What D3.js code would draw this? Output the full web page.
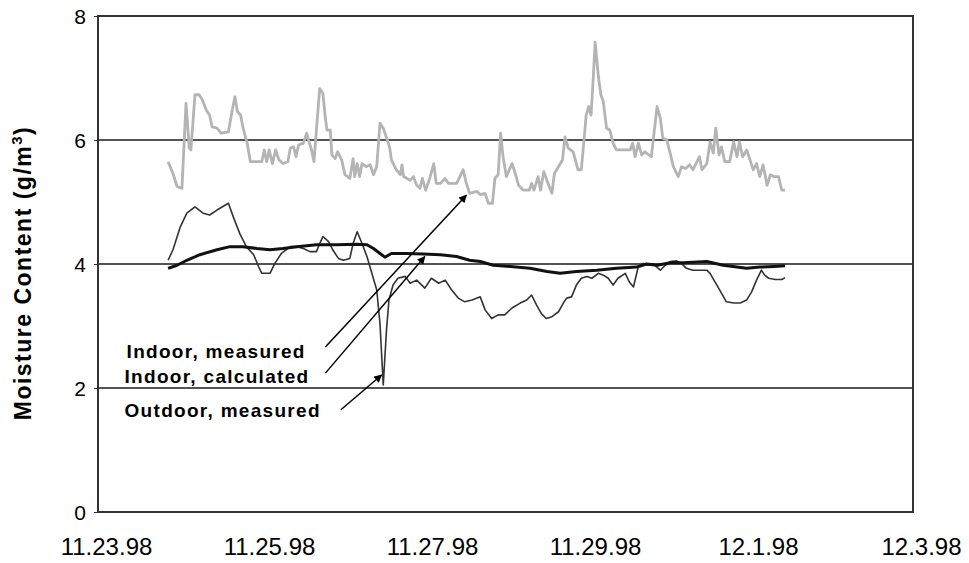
<!DOCTYPE html>
<html>
<head>
<meta charset="utf-8">
<script src="https://cdn.jsdelivr.net/npm/d3@7"></script>
<style>
  body { margin: 0; background: #fff; }
  text { font-family: "Liberation Sans", Arial, sans-serif; }
</style>
</head>
<body>
<div id="chart"></div>
<script>

// x values are days after 11.23.98 00:00
var tickLabels = ['11.23.98', '11.25.98', '11.27.98', '11.29.98', '12.1.98', '12.3.98'];
var tickDays = [0, 2, 4, 6, 8, 10];
var yTicks = [0, 2, 4, 6, 8];
var gridValues = [2, 4, 6];

var indoorMeasuredDays = [0.86,0.92,0.97,1.03,1.08,1.12,1.14,1.19,1.24,1.28,1.33,1.37,1.40,1.46,1.51,1.60,1.64,1.68,1.71,1.75,1.78,1.83,1.87,2.01,2.04,2.07,2.10,2.14,2.18,2.22,2.27,2.33,2.36,2.40,2.43,2.46,2.52,2.56,2.59,2.62,2.65,2.68,2.72,2.76,2.79,2.81,2.85,2.87,2.91,2.94,2.99,3.03,3.09,3.13,3.15,3.18,3.21,3.24,3.29,3.34,3.38,3.42,3.46,3.50,3.55,3.58,3.60,3.66,3.71,3.73,3.75,3.83,3.87,3.91,3.95,3.98,4.02,4.07,4.12,4.15,4.20,4.26,4.30,4.40,4.44,4.48,4.52,4.56,4.65,4.69,4.75,4.79,4.84,4.87,4.91,4.94,4.97,5.01,5.08,5.12,5.16,5.22,5.29,5.32,5.35,5.40,5.43,5.47,5.53,5.57,5.60,5.65,5.70,5.73,5.77,5.83,5.89,5.93,5.96,5.99,6.02,6.05,6.08,6.10,6.14,6.17,6.20,6.24,6.28,6.32,6.36,6.53,6.56,6.59,6.63,6.67,6.71,6.79,6.81,6.86,6.90,6.93,6.98,7.02,7.06,7.12,7.16,7.21,7.26,7.30,7.38,7.41,7.47,7.51,7.55,7.58,7.62,7.65,7.69,7.75,7.80,7.84,7.87,7.91,7.96,8.00,8.04,8.08,8.12,8.16,8.21,8.25,8.29,8.35,8.39,8.43];
var indoorMeasured = [5.65,5.46,5.25,5.22,6.59,5.87,5.84,6.73,6.73,6.65,6.48,6.40,6.21,6.19,6.11,6.13,6.43,6.70,6.46,6.40,6.19,5.95,5.65,5.65,5.84,5.65,5.84,5.62,5.84,5.68,5.62,5.65,5.87,5.89,5.73,5.92,5.95,6.11,5.97,5.84,5.65,6.16,6.83,6.75,6.35,6.16,6.16,5.76,5.70,5.81,5.68,5.44,5.38,5.70,5.41,5.62,5.41,5.62,5.57,5.60,5.44,5.57,6.27,6.19,6.00,5.87,5.68,5.52,5.44,5.60,5.41,5.35,5.41,5.27,5.22,5.38,5.19,5.38,5.62,5.30,5.30,5.38,5.30,5.30,5.41,5.52,5.30,5.14,5.17,5.12,5.14,4.98,4.98,5.38,5.44,6.11,5.73,5.41,5.62,5.46,5.27,5.19,5.19,5.30,5.19,5.41,5.19,5.49,5.27,5.14,5.46,5.57,5.68,6.05,5.87,5.81,5.52,5.52,5.95,6.40,6.54,6.40,7.08,7.58,7.02,6.73,6.62,6.19,6.16,5.95,5.84,5.84,5.95,5.73,5.95,5.76,5.81,5.73,5.97,6.54,6.35,6.03,6.00,5.79,5.57,5.41,5.57,5.54,5.60,5.52,5.73,5.52,5.62,5.97,5.79,6.19,5.76,5.89,5.65,5.65,5.97,5.73,5.97,5.73,5.84,5.68,5.52,5.62,5.41,5.60,5.27,5.44,5.41,5.41,5.19,5.19];

var indoorCalcDays = [0.86,0.97,1.09,1.25,1.46,1.62,1.78,1.95,2.11,2.27,2.44,2.68,2.93,3.17,3.30,3.38,3.46,3.52,3.60,3.79,3.99,4.20,4.40,4.56,4.69,4.85,5.06,5.30,5.51,5.67,5.87,6.12,6.36,6.61,6.73,6.86,7.02,7.18,7.47,7.67,7.84,7.96,8.12,8.29,8.43];
var indoorCalc = [3.93,3.98,4.06,4.15,4.23,4.28,4.28,4.25,4.23,4.25,4.28,4.31,4.31,4.32,4.31,4.25,4.17,4.11,4.17,4.17,4.16,4.15,4.12,4.06,4.04,3.98,3.96,3.93,3.88,3.85,3.88,3.90,3.93,3.95,4.00,3.98,4.02,4.02,4.04,3.98,3.95,3.93,3.95,3.96,3.97];

var outdoorDays = [0.86,0.92,1.01,1.09,1.19,1.29,1.37,1.46,1.60,1.66,1.74,1.82,1.91,1.97,2.01,2.11,2.17,2.25,2.36,2.44,2.52,2.60,2.68,2.72,2.76,2.83,2.88,2.95,3.01,3.09,3.13,3.18,3.24,3.30,3.36,3.42,3.46,3.50,3.54,3.57,3.62,3.68,3.77,3.83,3.91,4.01,4.09,4.18,4.26,4.34,4.42,4.50,4.59,4.69,4.75,4.83,4.91,4.99,5.08,5.18,5.26,5.32,5.38,5.44,5.50,5.57,5.65,5.71,5.75,5.81,5.87,5.93,6.00,6.06,6.14,6.20,6.26,6.32,6.38,6.47,6.52,6.57,6.61,6.63,6.69,6.75,6.83,6.90,6.96,7.02,7.10,7.16,7.22,7.30,7.39,7.47,7.51,7.57,7.65,7.71,7.80,7.88,7.96,8.02,8.08,8.14,8.18,8.23,8.31,8.39,8.43];
var outdoor = [4.06,4.23,4.60,4.82,4.92,4.82,4.79,4.87,4.98,4.76,4.49,4.28,4.15,3.96,3.85,3.85,4.01,4.17,4.28,4.28,4.25,4.20,4.20,4.33,4.44,4.36,4.23,4.09,4.06,4.09,4.33,4.52,4.33,4.12,3.85,3.58,3.04,2.05,2.94,3.42,3.66,3.77,3.80,3.69,3.74,3.61,3.77,3.69,3.74,3.58,3.45,3.39,3.42,3.47,3.26,3.12,3.18,3.18,3.29,3.37,3.42,3.50,3.34,3.20,3.12,3.15,3.23,3.37,3.45,3.47,3.66,3.77,3.80,3.77,3.85,3.82,3.77,3.66,3.77,3.85,3.71,3.63,3.85,3.96,4.01,3.98,3.98,3.90,3.98,4.04,4.05,4.01,3.93,3.90,3.90,3.90,3.85,3.71,3.53,3.39,3.37,3.37,3.42,3.55,3.74,3.90,3.82,3.77,3.75,3.75,3.78];

// annotation labels: text, label position, arrow start, arrow tip (days, value)
var labelTexts = ['Indoor, measured', 'Indoor, calculated', 'Outdoor, measured'];
var labelAt = [[1.45, 2.48], [1.46, 2.08], [1.53, 1.53]];
var arrowFrom = [[2.79, 2.66], [2.79, 2.24], [2.98, 1.65]];
var arrowTo = [[4.52, 5.11], [4.01, 4.12], [3.48, 2.21]];

var width = 969;
var height = 563;
var margin = {top: 16, right: 56, bottom: 51, left: 98};
var plotW = width - margin.left - margin.right;
var plotH = height - margin.top - margin.bottom;

var svg = d3.select('#chart')
  .append('svg')
  .attr('width', width)
  .attr('height', height);

var g = svg.append('g')
  .attr('transform', 'translate(' + margin.left + ',' + margin.top + ')');

var xScale = d3.scaleLinear().domain([0, 10]).range([0, plotW]);
var yScale = d3.scaleLinear().domain([0, 8]).range([plotH, 0]);

var defs = svg.append('defs');
defs.append('marker')
  .attr('id', 'arrow')
  .attr('viewBox', '0 0 10 10')
  .attr('refX', 9)
  .attr('refY', 5)
  .attr('markerWidth', 9)
  .attr('markerHeight', 8)
  .attr('markerUnits', 'userSpaceOnUse')
  .attr('orient', 'auto')
  .append('path')
  .attr('d', 'M0,0 L10,5 L0,10 z')
  .attr('fill', '#000');

// horizontal grid lines
g.selectAll('.grid')
  .data(gridValues)
  .enter()
  .append('line')
  .attr('class', 'grid')
  .attr('x1', 0)
  .attr('x2', plotW)
  .attr('y1', d => yScale(d))
  .attr('y2', d => yScale(d))
  .attr('stroke', '#1a1a1a')
  .attr('stroke-width', 1.5);

// y axis
var yAxis = d3.axisLeft(yScale).tickValues(yTicks).tickSize(4).tickPadding(8);
var yG = g.append('g').call(yAxis);
yG.select('.domain').remove();
yG.selectAll('line').attr('stroke', '#333');
yG.selectAll('text')
  .attr('font-size', '21px')
  .attr('fill', '#000')
  .attr('dy', '0.36em');

// x axis labels (no visible ticks)
var xAxis = d3.axisBottom(xScale)
  .tickValues(tickDays)
  .tickFormat((d, i) => tickLabels[i])
  .tickSize(0)
  .tickPadding(26);
var xG = g.append('g')
  .attr('transform', 'translate(0,' + plotH + ')')
  .call(xAxis);
xG.select('.domain').remove();
xG.selectAll('text')
  .attr('font-size', '24px')
  .attr('fill', '#000')
  .attr('dx', 8);

// plot border
g.append('rect')
  .attr('x', 0)
  .attr('y', 0)
  .attr('width', plotW)
  .attr('height', plotH)
  .attr('fill', 'none')
  .attr('stroke', '#333')
  .attr('stroke-width', 2);

var line = d3.line()
  .x(d => xScale(d[0]))
  .y(d => yScale(d[1]));

var series = [
  {days: indoorMeasuredDays, values: indoorMeasured, color: '#b4b4b4', w: 2.8},
  {days: outdoorDays, values: outdoor, color: '#333', w: 1.6},
  {days: indoorCalcDays, values: indoorCalc, color: '#111', w: 3}
];

series.forEach(s => {
  g.append('path')
    .datum(d3.zip(s.days, s.values))
    .attr('d', line)
    .attr('fill', 'none')
    .attr('stroke', s.color)
    .attr('stroke-width', s.w)
    .attr('stroke-linejoin', 'round');
});

// annotations
g.selectAll('.arrow')
  .data(d3.range(arrowFrom.length))
  .enter()
  .append('line')
  .attr('class', 'arrow')
  .attr('x1', i => xScale(arrowFrom[i][0]))
  .attr('y1', i => yScale(arrowFrom[i][1]))
  .attr('x2', i => xScale(arrowTo[i][0]))
  .attr('y2', i => yScale(arrowTo[i][1]))
  .attr('stroke', '#000')
  .attr('stroke-width', 1.5)
  .attr('marker-end', 'url(#arrow)');

g.selectAll('.label')
  .data(labelTexts)
  .enter()
  .append('text')
  .attr('class', 'label')
  .attr('x', (d, i) => xScale(labelAt[i][0]))
  .attr('y', (d, i) => yScale(labelAt[i][1]))
  .attr('text-anchor', 'middle')
  .attr('font-size', '19px')
  .attr('font-weight', 'bold')
  .attr('letter-spacing', '1.3px')
  .text(d => d);

// y axis title
var title = svg.append('text')
  .attr('transform', 'translate(31,' + (margin.top + plotH / 2 + 9) + ') rotate(-90)')
  .attr('text-anchor', 'middle')
  .attr('font-size', '23px')
  .attr('font-weight', 'bold')
  .attr('letter-spacing', '1.5px');
title.append('tspan').text('Moisture Content (g/m');
title.append('tspan').attr('font-size', '15px').attr('dy', '-9').text('3');
title.append('tspan').attr('dy', '9').text(')');

</script>
</body>
</html>
